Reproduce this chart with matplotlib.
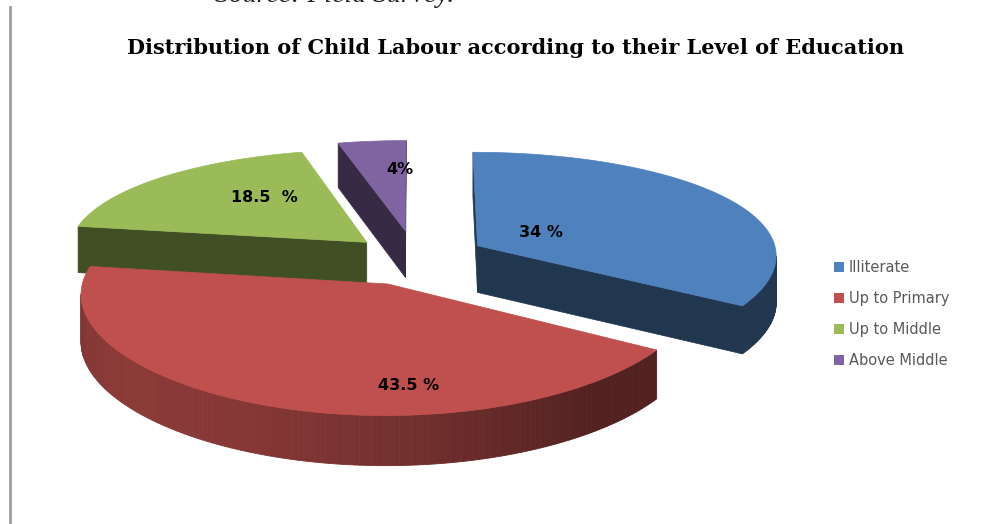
import numpy as np
import matplotlib.pyplot as plt
from matplotlib.patches import Polygon, Patch
import matplotlib.colors as mcolors

# data
labels = ['Illiterate', 'Up to Primary', 'Up to Middle', 'Above Middle']
values = [34, 43.5, 18.5, 4]
pct_text = ['34 %', '43.5 %', '18.5  %', '4%']
top_colors = ['#4F81BD', '#C0504D', '#9BBB59', '#8064A2']
explode = [0.24, 0.25, 0.22, 0.26]
# where each label sits inside its slice (angle in degrees, fraction of radius)
label_angle = [31, -85, 129, 92]
label_r = [0.255, 0.8, 0.58, 0.65]

W, H = 986, 524
fig = plt.figure(figsize=(W / 100, H / 100), dpi=100)
ax = fig.add_axes([0, 0, 1, 1])
ax.set_xlim(0, W)
ax.set_ylim(H, 0)
ax.axis('off')

# 3d pie geometry (pixel space)
CX, CY = 415, 258
RA, RB = 300, 108
DEPTH = 47
PX, PY, PZ = 0.08, 0.125, 0.05


def proj(X, Y, Z=0.0):
    X = np.asarray(X, dtype=float)
    Y = np.asarray(Y, dtype=float)
    x = CX + RA * X / (1 + PX * Y)
    y = CY - RB * Y / (1 + PY * Y) - DEPTH * Z / (1 + PZ * Y)
    return x, y


def area(pts):
    pts = np.asarray(pts)
    x, y = pts[:, 0], pts[:, 1]
    return 0.5 * np.sum(x * np.roll(y, -1) - np.roll(x, -1) * y)


def shade(c, f):
    rgb = np.array(mcolors.to_rgb(c)) * f
    return np.clip(rgb, 0, 1)


total = float(sum(values))
fr = np.array(values) / total
t_start = np.radians(90 - 360 * np.concatenate([[0], np.cumsum(fr)[:-1]]))
t_end = t_start - np.radians(360 * fr)
mid = (t_start + t_end) / 2
ox = np.array(explode) * np.cos(mid)
oy = np.array(explode) * np.sin(mid)

order = np.argsort(-oy)  # back slices first
for i in order:
    c = top_colors[i]
    th = np.linspace(t_start[i], t_end[i], 160)
    # radial cut faces
    for t, rev in [(t_start[i], False), (t_end[i], True)]:
        ct = proj(ox[i], oy[i], 0)
        cb = proj(ox[i], oy[i], -1)
        et = proj(ox[i] + np.cos(t), oy[i] + np.sin(t), 0)
        eb = proj(ox[i] + np.cos(t), oy[i] + np.sin(t), -1)
        quad = [ct, et, eb, cb]
        if rev:
            quad = [ct, cb, eb, et]
        if area(quad) < 0:
            ax.add_patch(Polygon(quad, closed=True, facecolor=shade(c, 0.42),
                                 edgecolor=shade(c, 0.42), lw=0.5))
    # outer wall, drawn in small shaded strips
    xt, yt = proj(ox[i] + np.cos(th), oy[i] + np.sin(th), 0)
    xb, yb = proj(ox[i] + np.cos(th), oy[i] + np.sin(th), -1)
    for k in range(len(th) - 1):
        quad = [(xt[k], yt[k]), (xt[k + 1], yt[k + 1]),
                (xb[k + 1], yb[k + 1]), (xb[k], yb[k])]
        if area(quad) < 0:
            f = 0.42 + 0.3 * max(0.0, np.cos(th[k] - np.radians(220)))
            col = shade(c, f)
            ax.add_patch(Polygon(quad, closed=True, facecolor=col,
                                 edgecolor=col, lw=0.6))
    # top face
    cx0, cy0 = proj(ox[i], oy[i], 0)
    top = np.column_stack([np.r_[cx0, xt], np.r_[cy0, yt]])
    ax.add_patch(Polygon(top, closed=True, facecolor=c, edgecolor=c, lw=0.5))

# value labels
for i in range(len(values)):
    a = np.radians(label_angle[i])
    lx, ly = proj(ox[i] + label_r[i] * np.cos(a), oy[i] + label_r[i] * np.sin(a), 0)
    ax.text(lx, ly, pct_text[i], ha='center', va='center', fontsize=11.5,
            fontweight='bold', family='DejaVu Sans', color='black')

# title and cut-off caption above
fig.text(516 / W, 1 - 48 / H, 'Distribution of Child Labour according to their Level of Education',
         ha='center', va='center', fontsize=15, fontweight='bold', family='DejaVu Serif')
fig.text(215 / W, 1 - 1.5 / H, 'Source: Field Survey.', ha='left', va='baseline',
         fontsize=20, style='italic', family='Liberation Serif', color='#222222')

# left page rule
ax.plot([10, 10], [7, H], color='#9a9a9a', lw=2)

handles = [Patch(facecolor=c, edgecolor='none') for c in top_colors]
leg = fig.legend(handles, labels, loc='center left', bbox_to_anchor=(821 / W, 1 - 314 / H),
                 frameon=False, handlelength=0.7, handleheight=0.7,
                 handletextpad=0.3, labelspacing=1.11, labelcolor='#595959',
                 prop={'family': 'DejaVu Sans', 'size': 10.5})

fig.savefig('out.png', dpi=100)
